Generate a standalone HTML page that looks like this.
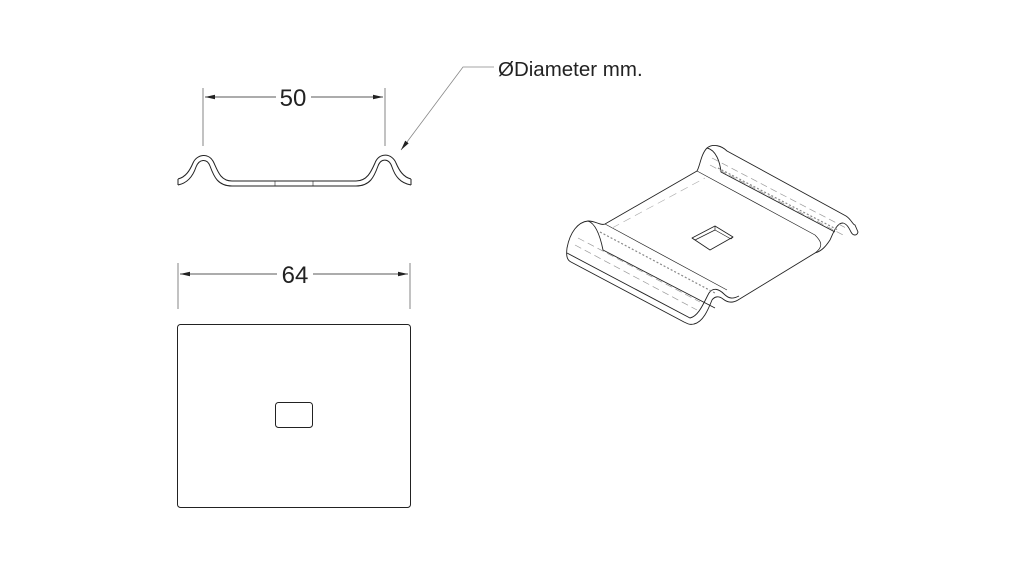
<!DOCTYPE html>
<html><head><meta charset="utf-8"><style>
html,body{margin:0;padding:0;background:#fff;width:1024px;height:576px;overflow:hidden}
svg{display:block}
</style></head><body>
<svg width="1024" height="576" viewBox="0 0 1024 576" xmlns="http://www.w3.org/2000/svg">
<defs>
<marker id="ar" markerWidth="10" markerHeight="6" refX="10" refY="3" orient="auto" markerUnits="userSpaceOnUse"><path d="M0,0.8 L10,3 L0,5.2z" fill="#222"/></marker>
</defs>
<g fill="none" stroke="#222" stroke-width="1">
<line x1="203" y1="88" x2="203" y2="146" stroke="#666" stroke-width="0.8"/>
<line x1="385" y1="88" x2="385" y2="146" stroke="#666" stroke-width="0.8"/>
<line x1="276" y1="97" x2="205" y2="97" marker-end="url(#ar)" stroke-width="0.8"/>
<line x1="311" y1="97" x2="383" y2="97" marker-end="url(#ar)" stroke-width="0.8"/>
<polyline points="494,67 463,67 401,150" stroke="#888" stroke-width="0.8" marker-end="url(#ar)"/>
<path d="M178,179 C186,177 190,170 193,163 C197,154 209,152 214,163 C218,172 221,181 232,181 L356,181 C367,181 371,172 375,163 C379,152 392,153 396,163 C399,170 403,177 411,179"/>
<path d="M178,185 C188,183 193,176 196,167 C199,159 207,158 210,166 C214,177 218,186 232,186 L356,186 C370,186 374,177 378,166 C381,158 389,158 392,167 C395,176 400,183 411,185"/>
<line x1="178" y1="179" x2="178" y2="185"/><line x1="411" y1="179" x2="411" y2="185"/>
<line x1="275" y1="181" x2="275" y2="186" stroke-width="0.6"/><line x1="313" y1="181" x2="313" y2="186" stroke-width="0.6"/>
<line x1="178" y1="263" x2="178" y2="309" stroke="#666" stroke-width="0.8"/>
<line x1="410" y1="263" x2="410" y2="309" stroke="#666" stroke-width="0.8"/>
<line x1="277" y1="274" x2="180" y2="274" marker-end="url(#ar)" stroke-width="0.8"/>
<line x1="313" y1="274" x2="408" y2="274" marker-end="url(#ar)" stroke-width="0.8"/>
<rect x="177.5" y="324.5" width="233" height="183" rx="3"/>
<rect x="275.5" y="402.5" width="37" height="25" rx="3"/>
<g stroke-width="0.9" stroke-linejoin="round">
<path d="M567,248 C570,232 578,222 588,221 C596,221 601,226 605,224 L697,171 C700,166 701,154 707,148 C713,143 722,146 727,151 L846,216 C851,219 853,225 855,225 L858,232 C857,236 853,236 851,232 C849,228 847,224 843,223 C837,223 834,231 830,240 C826,246 822,251 815,253 L738,300 C733,303 728,303 723,299 C719,296 715,296 712,300 C708,310 703,322 694,324 C690,325 688,324 684,322 L571,262 C567,260 566,256 567,248 Z"/>
<path d="M567,253 L690,318 C699,316 704,302 709,293 C713,287 719,289 724,294 C729,299 733,299 739,296"/>
<path d="M588,221 C597,224 601,240 603,250 L715,308"/>
<path d="M707,148 C716,150 720,162 721,172 L835,232"/>
<path d="M605,224 L727,290" stroke-width="0.7"/>
<path d="M697,171 L815,235 C820,240 825,246 815,253" stroke-width="0.7"/>
<path d="M578,238 L700,302 M575,245 L697,310" stroke="#999" stroke-width="0.7" stroke-dasharray="7,4"/>
<path d="M710,165 L845,236 M712,158 L848,229" stroke="#999" stroke-width="0.7" stroke-dasharray="7,4"/>
<path d="M600,232 L715,293 M718,168 L838,230" stroke="#888" stroke-width="1.2" stroke-dasharray="2,2"/>
<path d="M612,228 L705,178" stroke="#aaa" stroke-width="0.6" stroke-dasharray="8,5"/>
<path d="M692,238 L715,226 L733,237 L710,250 Z"/>
<path d="M695,240 L715,230 L731,239 M715,226 L715,230 M692,238 L695,240 M733,237 L731,239" stroke-width="0.7"/>
</g>
</g>
<g font-family="Liberation Sans, sans-serif" fill="#222">
<text x="293" y="106" font-size="24" text-anchor="middle">50</text>
<text x="295" y="283" font-size="24" text-anchor="middle">64</text>
<text x="498" y="76" font-size="20.5">ØDiameter mm.</text>
</g>
</svg>
</body></html>
